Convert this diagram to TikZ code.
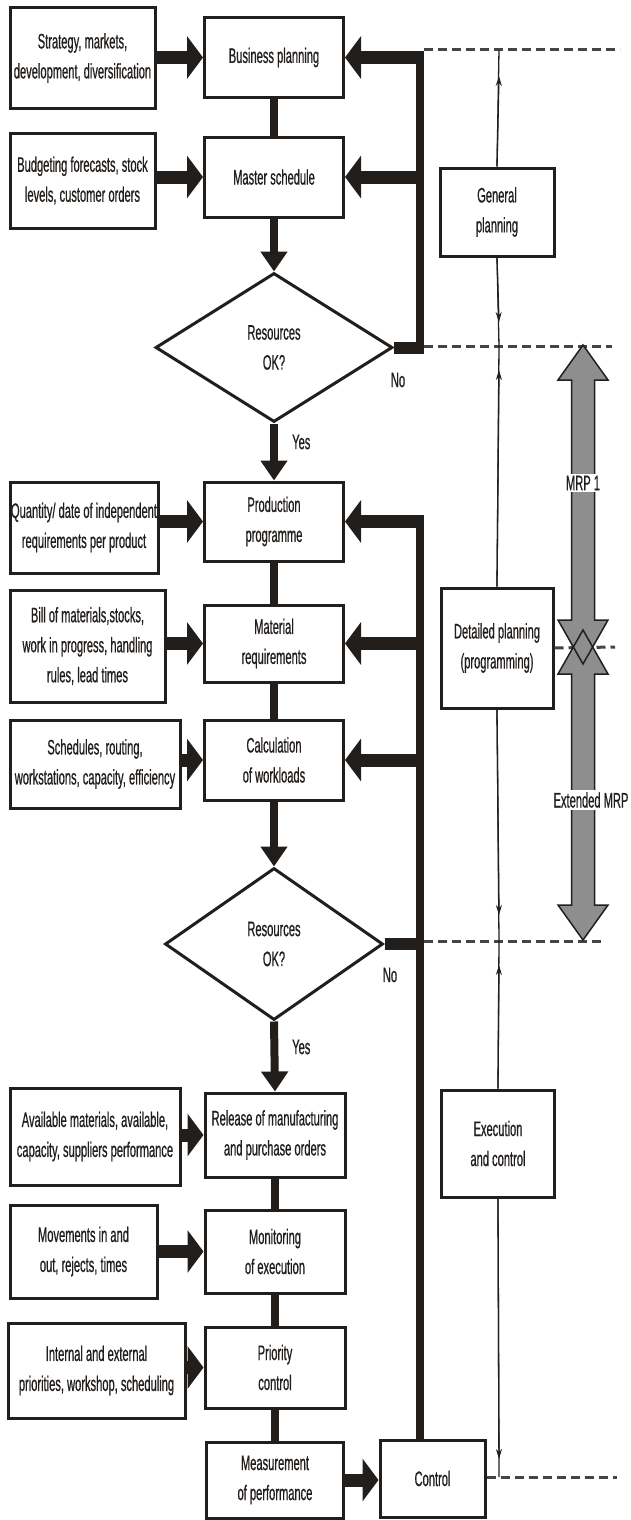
\documentclass[tikz,border=0pt]{standalone}
\usepackage{fontspec}
\setmainfont{Liberation Sans}[FakeStretch=0.53,FakeBold=0.6]
\usetikzlibrary{arrows.meta,shapes.geometric,calc}
\definecolor{ink}{HTML}{221E1B}
\definecolor{mrpgray}{HTML}{8E8E8E}
\definecolor{dashgray}{HTML}{444444}

\tikzset{
  txt/.style={font=\fontsize{21pt}{30pt}\selectfont, text=ink, align=center},
  srcbox/.style={txt, draw=ink, line width=3pt, fill=white, inner sep=0pt},
  mainbox/.style={srcbox, minimum width=139pt},
  sidebox/.style={srcbox},
  decision/.style={txt, diamond, draw=ink, line width=3pt, fill=white, inner sep=0pt},
  link/.style={draw=ink, line width=8pt},
  downarrow/.style={draw=ink, line width=8pt, -{Triangle[width=26pt,length=20pt]}},
  inarrow/.style={draw=ink, line width=13pt, -{Triangle[width=42pt,length=16pt]}},
  fbline/.style={draw=ink, line width=8pt},
  noline/.style={draw=ink, line width=12pt},
  thinline/.style={draw=ink, line width=1.3pt},
  thintip/.style={draw=ink, line width=1.3pt, -{Stealth[length=10pt,width=6pt]}},
  levelline/.style={draw=dashgray, line width=3pt, dash pattern=on 9pt off 5pt},
  mrp/.style={fill=mrpgray, draw=ink, line width=1.5pt},
  label/.style={txt, inner sep=1pt}
}

\begin{document}
\begin{tikzpicture}[x=1pt,y=-1pt]
\useasboundingbox (0,0) rectangle (631,1520);

% ---- main flow column ----
\node[mainbox, minimum height=79pt] (bp) at (274,57.5) {Business planning};
\node[mainbox, minimum height=80pt] (ms) at (274,177) {Master schedule};
\node[decision, minimum width=237pt, minimum height=149pt] (d1) at (274,347.5) {Resources\\OK?};
\node[mainbox, minimum height=79pt] (pp) at (274,521.5) {Production\\programme};
\node[mainbox, minimum height=77pt] (mr) at (274,643.5) {Material\\requirements};
\node[mainbox, minimum height=80pt] (cw) at (274,760) {Calculation\\of workloads};
\node[decision, minimum width=218pt, minimum height=152pt] (d2) at (274,944) {Resources\\OK?};
\node[mainbox, minimum width=140pt, minimum height=84pt] (rel) at (275,1135) {Release of manufacturing\\and purchase orders};
\node[mainbox, minimum width=140pt, minimum height=83pt] (mon) at (275,1251.5) {Monitoring\\of execution};
\node[mainbox, minimum width=140pt, minimum height=81pt] (pri) at (275,1367.5) {Priority\\control};
\node[mainbox, minimum width=137pt, minimum height=76pt] (mea) at (275,1480) {Measurement\\of performance};
\node[mainbox, minimum width=105pt, minimum height=77pt] (ctl) at (432.5,1478.5) {Control};

% ---- input boxes ----
\node[srcbox, minimum width=145pt, minimum height=100pt] (s1) at (82.5,58) {Strategy, markets,\\development, diversification};
\node[srcbox, minimum width=145pt, minimum height=95pt] (s2) at (82.5,180.5) {Budgeting forecasts, stock\\levels, customer orders};
\node[srcbox, minimum width=148pt, minimum height=91pt] (s3) at (84,527.5) {Quantity/ date of independent\\requirements per product};
\node[srcbox, minimum width=155pt, minimum height=112pt] (s4) at (87.5,646) {Bill of materials,stocks,\\work in progress, handling\\rules, lead times};
\node[srcbox, minimum width=170pt, minimum height=88pt] (s5) at (95,764) {Schedules, routing,\\workstations, capacity, efficiency};
\node[srcbox, minimum width=170pt, minimum height=97pt] (s6) at (95,1136.5) {Available materials, available,\\capacity, suppliers performance};
\node[srcbox, minimum width=147pt, minimum height=93pt] (s7) at (83.5,1251.5) {Movements in and\\out, rejects, times};
\node[srcbox, minimum width=177pt, minimum height=95pt] (s8) at (96.5,1370.5) {Internal and external\\priorities, workshop, scheduling};

% ---- inputs into the main flow ----
\draw[inarrow] (s1.east |- bp.west) -- (bp.west);
\draw[inarrow] (s2.east |- ms.west) -- (ms.west);
\draw[inarrow] (s3.east |- pp.west) -- (pp.west);
\draw[inarrow] (s4.east |- mr.west) -- (mr.west);
\draw[inarrow] (s5.east |- cw.west) -- (cw.west);
\draw[inarrow] (s6.east |- rel.west) -- (rel.west);
\draw[inarrow] (s7.east |- mon.west) -- (mon.west);
\draw[inarrow] (s8.east |- pri.west) -- (pri.west);
\draw[inarrow] (mea.east) -- (mea.east -| ctl.west);

% ---- main flow connectors ----
\draw[link] (bp.south) -- (ms.north);
\draw[downarrow] (ms.south) -- (d1.north);
\draw[downarrow] (d1.south) -- (pp.north);
\draw[link] (pp.south) -- (mr.north);
\draw[link] (mr.south) -- (cw.north);
\draw[downarrow] (cw.south) -- (d2.north);
\draw[downarrow] (d2.south) -- (rel.north);
\draw[link] (rel.south) -- (mon.north);
\draw[link] (mon.south) -- (pri.north);
\draw[link] (pri.south) -- (mea.north);

\node[label, anchor=west] at (291,442) {Yes};
\node[label, anchor=west] at (291,1047) {Yes};
\node[label] at (398,380) {No};
\node[label] at (390,975) {No};

% ---- feedback loops ----
\coordinate (fbx) at (420,0);
\draw[noline] (d1.east) -- ($(d1.east -| fbx)+(4,0)$);
\draw[fbline] ($(d1.east -| fbx)+(0,6)$) -- ($(bp.east -| fbx)+(0,-6.5)$);
\draw[inarrow] ($(bp.east -| fbx)+(4,0)$) -- (bp.east);
\draw[inarrow] (ms.east -| fbx) -- (ms.east);

\draw[noline] (d2.east) -- ($(d2.east -| fbx)+(4,0)$);
\draw[fbline] (ctl.north -| fbx) -- ($(pp.east -| fbx)+(0,-6.5)$);
\draw[inarrow] ($(pp.east -| fbx)+(4,0)$) -- (pp.east);
\draw[inarrow] (mr.east -| fbx) -- (mr.east);
\draw[inarrow] (cw.east -| fbx) -- (cw.east);

% ---- planning levels ----
\coordinate (v1) at (499,50);
\coordinate (v2) at (499,346);
\coordinate (v3) at (499,941);
\coordinate (v4) at (499,1477);

\draw[levelline] (424,50) -- (620,50);
\draw[levelline] (424,346) -- (612,346);
\draw[levelline] (424,941) -- (602,941);
\draw[levelline] (ctl.east |- v4) -- (617,1477);

\node[sidebox, minimum width=114pt, minimum height=88pt] (gp) at (497,212) {General\\planning};
\node[sidebox, minimum width=112pt, minimum height=120pt] (dp) at (497,648) {Detailed planning\\(programming)};
\node[sidebox, minimum width=113pt, minimum height=107pt] (ec) at (498,1143.5) {Execution\\and control};

\draw[thinline] (gp.north) -- (v1);
\draw[thintip] (gp.north) -- ($(v1)+(0,26)$);
\draw[thinline] (gp.south) -- (v2);
\draw[thintip] (gp.south) -- ($(v2)+(0,-24)$);
\draw[thinline] (dp.north) -- (v2);
\draw[thintip] (dp.north) -- ($(v2)+(0,24)$);
\draw[thinline] (dp.south) -- (v3);
\draw[thintip] (dp.south) -- ($(v3)+(0,-26)$);
\draw[thinline] (ec.north) -- (v3);
\draw[thintip] (ec.north) -- ($(v3)+(0,24)$);
\draw[thinline] (ec.south) -- (v4);
\draw[thintip] (ec.south) -- ($(v4)+(0,-18)$);

\draw[levelline] (dp.east) -- (615,647);

% ---- MRP ranges ----
\fill[mrpgray] (583,345) -- (608,380) -- (594.5,380) -- (594.5,620) -- (608,620) -- (583,664)
  -- (558,620) -- (571.5,620) -- (571.5,380) -- (558,380) -- cycle;
\fill[mrpgray] (583,630) -- (608,674) -- (594.5,674) -- (594.5,905) -- (608,905) -- (583,940)
  -- (558,905) -- (571.5,905) -- (571.5,674) -- (558,674) -- cycle;
\draw[draw=ink, line width=1.5pt] (583,345) -- (608,380) -- (594.5,380) -- (594.5,620) -- (608,620) -- (583,664)
  -- (558,620) -- (571.5,620) -- (571.5,380) -- (558,380) -- cycle;
\draw[draw=ink, line width=1.5pt] (583,630) -- (608,674) -- (594.5,674) -- (594.5,905) -- (608,905) -- (583,940)
  -- (558,905) -- (571.5,905) -- (571.5,674) -- (558,674) -- cycle;

\node[label, fill=white, inner sep=2pt] (m1) at (583,483) {MRP 1};
\node[label, fill=white, inner sep=2pt] (m2) at (591,800) {Extended MRP};
\end{tikzpicture}
\end{document}
